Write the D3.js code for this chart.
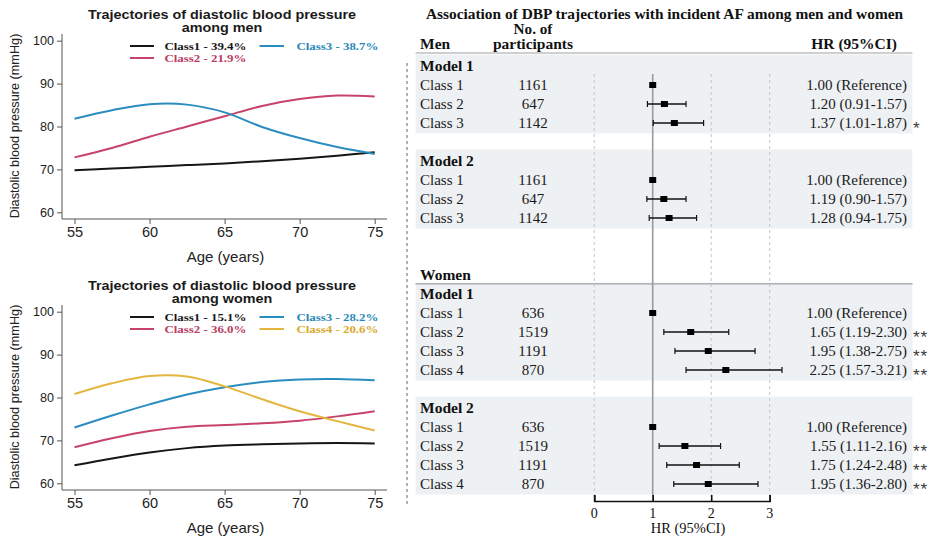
<!DOCTYPE html>
<html>
<head>
<meta charset="utf-8">
<script src="https://cdn.jsdelivr.net/npm/d3@7/dist/d3.min.js"></script>
<style>
  html, body { margin: 0; padding: 0; background: #ffffff; }
  svg { display: block; }
</style>
</head>
<body>
<svg id="chart" width="939" height="536"></svg>
<script>
// ---------- Trajectory data (diastolic BP, mmHg, by age) ----------
const ages = [55, 57.5, 60, 62.5, 65, 67.5, 70, 72.5, 75];
const yTicks = [60, 70, 80, 90, 100];
const xTicks = [55, 60, 65, 70, 75];

const menLabels = ["Class1", "Class2", "Class3"];
const menShares = ["39.4%", "21.9%", "38.7%"];
const menClass1 = [69.8, 70.2, 70.6, 71.0, 71.4, 71.9, 72.5, 73.2, 74.0];
const menClass2 = [72.8, 75.0, 77.6, 80.0, 82.4, 84.8, 86.4, 87.2, 87.0];
const menClass3 = [81.8, 83.8, 85.2, 85.1, 83.3, 79.9, 77.3, 75.2, 73.6];

const womenLabels = ["Class1", "Class2", "Class3", "Class4"];
const womenShares = ["15.1%", "36.0%", "28.2%", "20.6%"];
const womenClass1 = [64.2, 65.8, 67.2, 68.2, 68.8, 69.1, 69.3, 69.4, 69.3];
const womenClass2 = [68.4, 70.5, 72.2, 73.2, 73.6, 74.0, 74.6, 75.6, 76.8];
const womenClass3 = [73.0, 75.8, 78.4, 80.7, 82.4, 83.6, 84.2, 84.3, 84.0];
const womenClass4 = [80.8, 83.3, 85.0, 84.9, 82.6, 79.6, 76.8, 74.5, 72.3];

// ---------- Hazard ratios for incident AF ----------
const hrTicks = [0, 1, 2, 3];
const menN = [1161, 647, 1142];
const menM1HR = [1.00, 1.20, 1.37];
const menM1Lo = [null, 0.91, 1.01];
const menM1Hi = [null, 1.57, 1.87];
const menM1Sig = ["", "", "*"];
const menM2HR = [1.00, 1.19, 1.28];
const menM2Lo = [null, 0.90, 0.94];
const menM2Hi = [null, 1.57, 1.75];
const menM2Sig = ["", "", ""];

const womenN = [636, 1519, 1191, 870];
const womenM1HR = [1.00, 1.65, 1.95, 2.25];
const womenM1Lo = [null, 1.19, 1.38, 1.57];
const womenM1Hi = [null, 2.30, 2.75, 3.21];
const womenM1Sig = ["", "**", "**", "**"];
const womenM2HR = [1.00, 1.55, 1.75, 1.95];
const womenM2Lo = [null, 1.11, 1.24, 1.36];
const womenM2Hi = [null, 2.16, 2.48, 2.80];
const womenM2Sig = ["", "**", "**", "**"];

// ---------- Styling ----------
const sans = "'Liberation Sans', Arial, Helvetica, sans-serif";
const serif = "'Liberation Serif', 'Times New Roman', Times, serif";
const lineColors = ["#161616", "#c8436a", "#2b8dbf", "#e4b63e"];
const textColors = ["#161616", "#b93a60", "#2887b8", "#d9a92c"];

const svg = d3.select("#chart");

// text that is drawn slightly wider than tall (wide lettering)
function wideText(parent, x, y, sx) {
  return parent.append("text")
    .attr("transform", `translate(${x},${y}) scale(${sx},1)`)
    .attr("dy", "0.35em");
}

// ---------- Left column: trajectory panels ----------
function trajectoryPanel(offsetY, titleLines, labels, shares, seriesList) {
  const g = svg.append("g").attr("transform", `translate(0,${offsetY})`);
  const x = d3.scaleLinear().domain([55, 75]).range([74.5, 374.7]);
  const y = d3.scaleLinear().domain([60, 100]).range([212.3, 40.7]);

  // title
  titleLines.forEach((t, i) => {
    wideText(g, 222, 15 + i * 12.6, 1.16)
      .attr("font-family", sans).attr("font-size", 12.4).attr("font-weight", "bold")
      .attr("fill", "#1a1a1a").attr("text-anchor", "middle")
      .text(t);
  });

  // axes
  const yAxis = g.append("g").attr("transform", "translate(62,0)")
    .call(d3.axisLeft(y).tickValues(yTicks).tickSize(5).tickPadding(3));
  yAxis.select(".domain").remove();
  yAxis.selectAll("text").attr("font-family", sans).attr("font-size", 12.6).attr("fill", "#222");
  yAxis.selectAll(".tick line").attr("stroke", "#555");

  const xAxis = g.append("g").attr("transform", "translate(0,219)")
    .call(d3.axisBottom(x).tickValues(xTicks).tickSize(5).tickPadding(3));
  xAxis.select(".domain").remove();
  xAxis.selectAll("text").attr("font-family", sans).attr("font-size", 14.5).attr("fill", "#222");
  xAxis.selectAll(".tick line").attr("stroke", "#555");

  g.append("line").attr("x1", 62).attr("x2", 62).attr("y1", 34).attr("y2", 219)
    .attr("stroke", "#555").attr("stroke-width", 1);
  g.append("line").attr("x1", 62).attr("x2", 387).attr("y1", 219).attr("y2", 219)
    .attr("stroke", "#555").attr("stroke-width", 1);

  // axis titles
  g.append("text").attr("x", 225.5).attr("y", 257).attr("dy", "0.35em")
    .attr("text-anchor", "middle").attr("font-family", sans).attr("font-size", 15)
    .attr("fill", "#222").text("Age (years)");
  g.append("text").attr("transform", "translate(15,126) rotate(-90)")
    .attr("dy", "0.35em").attr("text-anchor", "middle")
    .attr("font-family", sans).attr("font-size", 12.7).attr("fill", "#222")
    .text("Diastolic blood pressure (mmHg)");

  // trajectories
  const line = d3.line()
    .x((d, i) => x(ages[i]))
    .y(d => y(d))
    .curve(d3.curveCatmullRom.alpha(0.5));
  g.append("g").selectAll("path").data(seriesList).join("path")
    .attr("d", d => line(d))
    .attr("fill", "none")
    .attr("stroke", (d, i) => lineColors[i])
    .attr("stroke-width", 2);

  // legend
  const colLine = [[130, 154], [259.5, 284]];
  const colText = [164.5, 296.5];
  const rowY = [46, 58];
  labels.forEach((lab, i) => {
    const c = Math.floor(i / 2), r = i % 2;
    g.append("line")
      .attr("x1", colLine[c][0]).attr("x2", colLine[c][1])
      .attr("y1", rowY[r]).attr("y2", rowY[r])
      .attr("stroke", lineColors[i]).attr("stroke-width", 2);
    wideText(g, colText[c], rowY[r], 1.13)
      .attr("font-family", serif).attr("font-size", 11.4).attr("font-weight", "bold")
      .attr("fill", textColors[i])
      .text(`${lab} - ${shares[i]}`);
  });
}

trajectoryPanel(0, ["Trajectories of diastolic blood pressure", "among men"],
  menLabels, menShares, [menClass1, menClass2, menClass3]);
trajectoryPanel(271, ["Trajectories of diastolic blood pressure", "among women"],
  womenLabels, womenShares, [womenClass1, womenClass2, womenClass3, womenClass4]);

// ---------- Right column: forest plot ----------
const fx = d3.scaleLinear().domain([0, 3]).range([594.2, 769.7]);
const fy = d3.scaleLinear().domain([0, 22]).range([66, 484]);
const fmt = d3.format(".2f");

const blocks = [
  { model: "Model 1", first: 0, n: menN, hr: menM1HR, lo: menM1Lo, hi: menM1Hi, sig: menM1Sig },
  { model: "Model 2", first: 5, n: menN, hr: menM2HR, lo: menM2Lo, hi: menM2Hi, sig: menM2Sig },
  { model: "Model 1", first: 12, n: womenN, hr: womenM1HR, lo: womenM1Lo, hi: womenM1Hi, sig: womenM1Sig },
  { model: "Model 2", first: 18, n: womenN, hr: womenM2HR, lo: womenM2Lo, hi: womenM2Hi, sig: womenM2Sig }
];

const fp = svg.append("g");

// shaded model blocks
fp.selectAll("rect.block").data(blocks).join("rect")
  .attr("class", "block")
  .attr("x", 415.5).attr("width", 497)
  .attr("y", d => fy(d.first) - 11.5)
  .attr("height", d => fy(d.first + d.hr.length) - fy(d.first) + 22)
  .attr("fill", "#eef1f3");

// left separator
fp.append("line").attr("x1", 407).attr("x2", 407).attr("y1", 63).attr("y2", 505)
  .attr("stroke", "#666").attr("stroke-width", 1).attr("stroke-dasharray", "3,3");

// header
const bold = (sel) => sel.attr("font-family", serif).attr("font-weight", "bold").attr("fill", "#111");
wideText(fp, 664.5, 14, 1.1).call(bold).attr("text-anchor", "middle").attr("font-size", 14)
  .text("Association of DBP trajectories with incident AF among men and women");
wideText(fp, 533, 29, 1.05).call(bold).attr("text-anchor", "middle").attr("font-size", 14.5)
  .text("No. of");
bold(fp.append("text")).attr("x", 420).attr("y", 44).attr("dy", "0.35em")
  .attr("font-size", 15.5).text("Men");
bold(fp.append("text")).attr("x", 533).attr("y", 44).attr("dy", "0.35em")
  .attr("text-anchor", "middle").attr("font-size", 15.5).text("participants");
bold(fp.append("text")).attr("x", 897).attr("y", 44).attr("dy", "0.35em")
  .attr("text-anchor", "end").attr("font-size", 15.5).text("HR (95%CI)");
fp.append("line").attr("x1", 415.5).attr("x2", 912.5).attr("y1", 53).attr("y2", 53)
  .attr("stroke", "#a0a0a0").attr("stroke-width", 1.2);

bold(fp.append("text")).attr("x", 420).attr("y", fy(11)).attr("dy", "0.35em")
  .attr("font-size", 15.5).text("Women");
fp.append("line").attr("x1", 415.5).attr("x2", 912.5).attr("y1", fy(11.47)).attr("y2", fy(11.47))
  .attr("stroke", "#a0a0a0").attr("stroke-width", 1.2);

// reference lines
fp.selectAll("line.ref").data(hrTicks).join("line")
  .attr("class", "ref")
  .attr("x1", d => fx(d)).attr("x2", d => fx(d))
  .attr("y1", 74).attr("y2", 501)
  .attr("stroke", d => d === 1 ? "#9a9a9a" : "#c4c4c4")
  .attr("stroke-width", d => d === 1 ? 1.6 : 1)
  .attr("stroke-dasharray", d => d === 1 ? null : "3,3");

// bottom axis
const hrAxis = fp.append("g").attr("transform", "translate(0,501)")
  .call(d3.axisTop(fx).tickValues(hrTicks).tickSize(6).tickFormat(d3.format("d")));
hrAxis.select(".domain").attr("stroke", "#111").attr("stroke-width", 1.6);
hrAxis.selectAll(".tick line").attr("stroke", "#111").attr("stroke-width", 1.6);
hrAxis.selectAll("text").remove();
fp.selectAll("text.htick").data(hrTicks).join("text")
  .attr("class", "htick")
  .attr("x", d => fx(d)).attr("y", 513.5).attr("dy", "0.35em")
  .attr("text-anchor", "middle").attr("font-family", serif).attr("font-size", 14)
  .attr("fill", "#111").text(d => d);
fp.append("text").attr("x", 688).attr("y", 528).attr("dy", "0.35em")
  .attr("text-anchor", "middle").attr("font-family", serif).attr("font-size", 14.5)
  .attr("fill", "#111").text("HR (95%CI)");

// model blocks: labels, counts, estimates
blocks.forEach(b => {
  const g = fp.append("g");
  bold(g.append("text")).attr("x", 420).attr("y", fy(b.first)).attr("dy", "0.35em")
    .attr("font-size", 15.5).text(b.model);

  const rows = b.hr.map((hr, i) => ({
    i, hr, lo: b.lo[i], hi: b.hi[i], n: b.n[i], sig: b.sig[i], y: fy(b.first + 1 + i)
  }));

  const r = g.selectAll("g.row").data(rows).join("g").attr("class", "row");
  const txt = (sel) => sel.attr("font-family", serif).attr("font-size", 15).attr("fill", "#1a1a1a")
    .attr("dy", "0.35em");
  txt(r.append("text")).attr("x", 420).attr("y", d => d.y).text(d => `Class ${d.i + 1}`);
  txt(r.append("text")).attr("x", 533).attr("y", d => d.y).attr("text-anchor", "middle").text(d => d.n);
  txt(r.append("text")).attr("x", 907).attr("y", d => d.y).attr("text-anchor", "end")
    .text(d => d.lo === null ? `${fmt(d.hr)} (Reference)` : `${fmt(d.hr)} (${fmt(d.lo)}-${fmt(d.hi)})`);
  r.append("text").attr("x", 913).attr("y", d => d.y + 5).attr("dy", "0.35em")
    .attr("font-family", sans).attr("font-size", 17).attr("fill", "#3a3a3a")
    .attr("letter-spacing", 1).text(d => d.sig);

  const ci = r.filter(d => d.lo !== null);
  ci.append("line").attr("x1", d => fx(d.lo)).attr("x2", d => fx(d.hi))
    .attr("y1", d => d.y).attr("y2", d => d.y)
    .attr("stroke", "#111").attr("stroke-width", 1.3);
  ci.append("line").attr("x1", d => fx(d.lo)).attr("x2", d => fx(d.lo))
    .attr("y1", d => d.y - 3).attr("y2", d => d.y + 3)
    .attr("stroke", "#111").attr("stroke-width", 1.2);
  ci.append("line").attr("x1", d => fx(d.hi)).attr("x2", d => fx(d.hi))
    .attr("y1", d => d.y - 3).attr("y2", d => d.y + 3)
    .attr("stroke", "#111").attr("stroke-width", 1.2);
  r.append("rect")
    .attr("x", d => fx(d.hr) - 3.5).attr("y", d => d.y - 3)
    .attr("width", 7).attr("height", 6)
    .attr("fill", "#000");
});
</script>
</body>
</html>
